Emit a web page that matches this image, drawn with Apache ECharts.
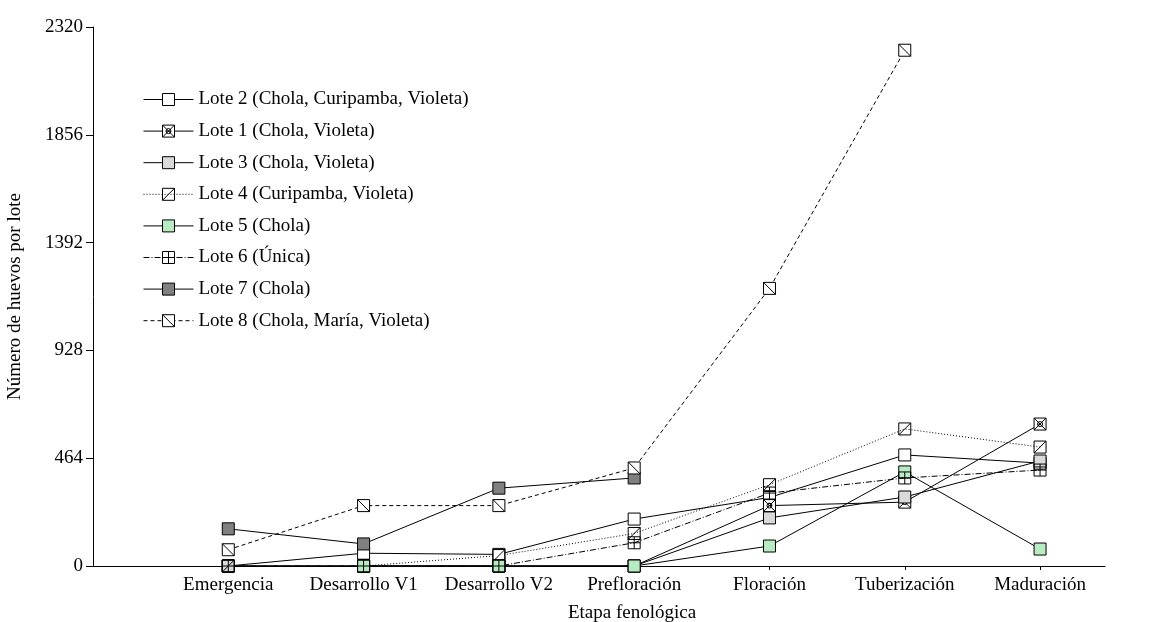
<!DOCTYPE html>
<html>
<head>
<meta charset="utf-8">
<script src="https://cdn.jsdelivr.net/npm/echarts@6/dist/echarts.min.js"></script>
<style>
  html, body { margin: 0; padding: 0; background: #fff; }
  #chart { width: 1168px; height: 622px; }
</style>
</head>
<body>
<div id="chart"></div>
<script>
// Phenological stages (x axis) and egg counts per plot (null = no count)
const stages = ['Emergencia', 'Desarrollo V1', 'Desarrollo V2', 'Prefloración', 'Floración', 'Tuberización', 'Maduración'];
const yTicks = [0, 464, 928, 1392, 1856, 2320];

const lote2 = [0, 55, 50, 202, 295, 478, 443];
const lote1 = [0, 0, 0, 0, 260, 275, 611];
const lote3 = [0, 0, 0, 0, 207, 297, 452];
const lote4 = [0, 0, 45, 140, 350, 590, 512];
const lote5 = [null, 0, 0, 0, 86, 405, 73];
const lote6 = [0, 0, 0, 100, 314, 379, 413];
const lote7 = [160, 95, 335, 379, null, null, null];
const lote8 = [70, 260, 260, 422, 1195, 2220, null];

const names = [
  'Lote 2 (Chola, Curipamba, Violeta)',
  'Lote 1 (Chola, Violeta)',
  'Lote 3 (Chola, Violeta)',
  'Lote 4 (Curipamba, Violeta)',
  'Lote 5 (Chola)',
  'Lote 6 (Única)',
  'Lote 7 (Chola)',
  'Lote 8 (Chola, María, Violeta)'
];

// Square markers, some with an inner pattern drawn by the stroke
const SQ = 'M0,0H12V12H0Z';
const symbols = {
  plain: 'rect',
  xcircle: 'path://' + SQ + ' M0,0L12,12 M12,0L0,12 M3.5,6a2.5,2.5 0 1,0 5,0a2.5,2.5 0 1,0 -5,0',
  slash: 'path://' + SQ + ' M0,12L12,0',
  cross: 'path://' + SQ + ' M6,0L6,12 M0,6L12,6',
  backslash: 'path://' + SQ + ' M0,0L12,12'
};

const styles = [
  { data: lote2, symbol: symbols.plain, fill: '#ffffff', type: 'solid' },
  { data: lote1, symbol: symbols.xcircle, fill: '#ffffff', type: 'solid' },
  { data: lote3, symbol: symbols.plain, fill: '#d9d9d9', type: 'solid' },
  { data: lote4, symbol: symbols.slash, fill: 'rgba(255,255,255,0)', type: [1, 2] },
  { data: lote5, symbol: symbols.plain, fill: '#b9ebc2', type: 'solid' },
  { data: lote6, symbol: symbols.cross, fill: 'rgba(255,255,255,0)', type: [6, 2, 1, 2] },
  { data: lote7, symbol: symbols.plain, fill: '#808080', type: 'solid' },
  { data: lote8, symbol: symbols.backslash, fill: '#ffffff', type: [4, 3] }
];

const FONT = 'Liberation Serif, Times New Roman, serif';
const FS = 19;

const series = styles.map((s, k) => ({
  name: names[k],
  type: 'line',
  data: s.data.map((v, i) => [i + 1, v]),
  connectNulls: false,
  symbol: s.symbol,
  symbolSize: 12,
  showAllSymbol: true,
  lineStyle: { color: '#000', width: 1, type: s.type },
  itemStyle: { color: s.fill, borderColor: '#000', borderWidth: 1 },
  emphasis: { disabled: true }
}));

const chart = echarts.init(document.getElementById('chart'), null, { renderer: 'canvas' });
chart.setOption({
  animation: false,
  backgroundColor: '#fff',
  grid: { left: 93, right: 63, top: 27, bottom: 56, containLabel: false, outerBoundsMode: 'none' },
  legend: {
    orient: 'vertical',
    left: 138,
    top: 85,
    itemWidth: 50,
    itemHeight: 15,
    itemGap: 12.6,
    data: names,
    itemStyle: { borderWidth: 1 },
    lineStyle: { width: 1 },
    textStyle: { fontFamily: FONT, fontSize: FS, color: '#000', lineHeight: 19 },
    inactiveColor: '#000'
  },
  xAxis: {
    type: 'value',
    min: 0,
    max: 7.48,
    interval: 1,
    name: 'Etapa fenológica',
    nameLocation: 'middle',
    nameGap: 38,
    nameTextStyle: { fontFamily: FONT, fontSize: FS, color: '#000', padding: [0, 0, 0, 66] },
    splitLine: { show: false },
    axisLine: { lineStyle: { color: '#000', width: 1 } },
    axisTick: { length: 4, lineStyle: { color: '#000' }, customValues: stages.map((_, i) => i + 1) },
    axisLabel: {
      customValues: stages.map((_, i) => i + 1),
      formatter: v => stages[Math.round(v) - 1] || '',
      fontFamily: FONT, fontSize: FS, color: '#000', margin: 10
    }
  },
  yAxis: {
    type: 'value',
    min: yTicks[0],
    max: yTicks[yTicks.length - 1],
    interval: yTicks[1] - yTicks[0],
    name: 'Número de huevos por lote',
    nameLocation: 'middle',
    nameGap: 68,
    nameTextStyle: { fontFamily: FONT, fontSize: FS, color: '#000' },
    splitLine: { show: false },
    axisLine: { show: true, lineStyle: { color: '#000', width: 1 } },
    axisTick: { show: true, length: 7, lineStyle: { color: '#000' } },
    axisLabel: { fontFamily: FONT, fontSize: FS, color: '#000', margin: 10, formatter: v => String(v) }
  },
  series: series
});
</script>
</body>
</html>
